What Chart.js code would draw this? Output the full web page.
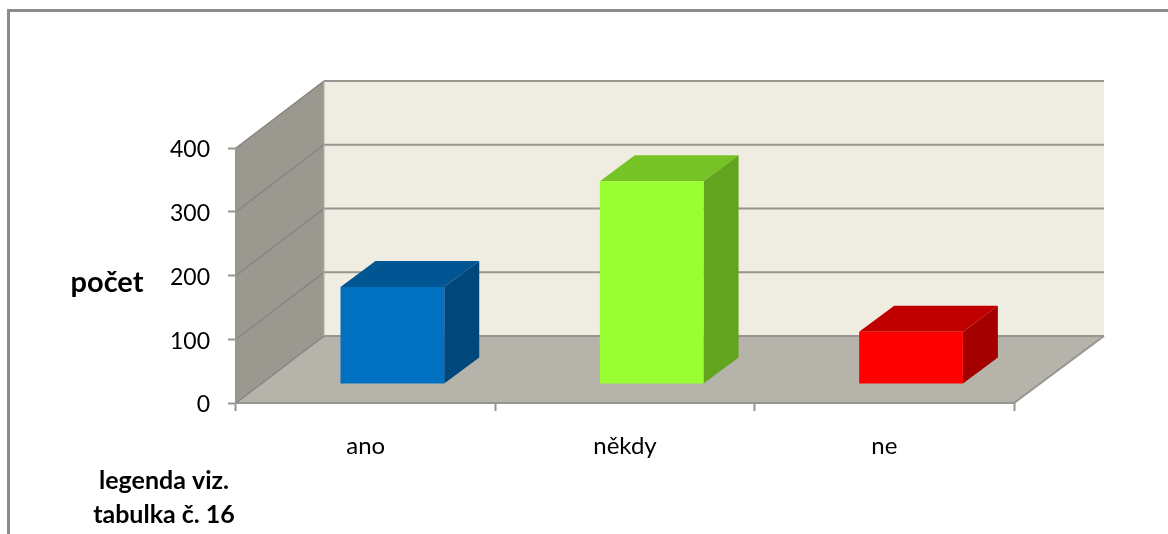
<!DOCTYPE html>
<html>
<head>
<meta charset="utf-8">
<style>html,body{margin:0;padding:0;background:#fff;overflow:hidden}canvas{display:block}</style>
<script src="https://cdn.jsdelivr.net/npm/chart.js@4/dist/chart.umd.min.js"></script>
</head>
<body>
<canvas id="c" width="1168" height="534"></canvas>
<script>
const categories = ["ano", "někdy", "ne"];
const values = [152, 318, 82];
const frontColors = ["#0070c0", "#99ff33", "#ff0000"];
const topColors = ["#005693", "#76c325", "#c00000"];
const sideColors = ["#00477c", "#63a41f", "#a40000"];
const yTicks = [0, 100, 200, 300, 400];
const yAxisTitle = "počet";
const noteLines = ["legenda viz.", "tabulka č. 16"];

const FONT = "Lato, Carlito, Calibri, sans-serif";
const LINE = "#969590";
const WALL = {dx: 88, dy: 67};
const BAR_OFFSET = {dx: 26.7, dy: 19};
const BAR_DEPTH = {dx: 35, dy: 26};

function poly(ctx, pts, fill) {
  ctx.beginPath();
  pts.forEach((p, i) => i ? ctx.lineTo(p[0], p[1]) : ctx.moveTo(p[0], p[1]));
  ctx.closePath();
  ctx.fillStyle = fill;
  ctx.fill();
}
function seg(ctx, x1, y1, x2, y2, color, w) {
  ctx.beginPath();
  ctx.moveTo(x1, y1);
  ctx.lineTo(x2, y2);
  ctx.strokeStyle = color;
  ctx.lineWidth = w;
  ctx.stroke();
}

const scene = {
  id: "scene",
  beforeDraw(chart) {
    const ctx = chart.ctx;
    ctx.save();
    ctx.fillStyle = "#8c8c8c";
    ctx.fillRect(7, 9, 3, 525);
    ctx.fillRect(7, 9, 1161, 3);
    ctx.restore();
  },
  beforeDatasetsDraw(chart) {
    const ctx = chart.ctx;
    const {left: l, right: r, top: t, bottom: b} = chart.chartArea;
    const dx = WALL.dx, dy = WALL.dy;
    const rx = r + dx + 2;
    ctx.save();
    poly(ctx, [[l + dx, t - dy], [rx, t - dy], [rx, b - dy], [l + dx, b - dy]], "#efede2");
    poly(ctx, [[l, t], [l + dx, t - dy], [l + dx, b - dy], [l, b]], "#9b9890");
    poly(ctx, [[l, b], [l + dx, b - dy], [rx, b - dy], [r, b]], "#b6b3ab");
    const ys = chart.scales.y;
    yTicks.forEach(v => {
      const y = ys.getPixelForValue(v);
      seg(ctx, l + dx, y - dy, rx, y - dy, LINE, 2);
      seg(ctx, l, y, l + dx, y - dy, "#85847e", 1.5);
    });
    seg(ctx, l, t, l, b, LINE, 2);
    seg(ctx, l + dx, t - dy, l + dx, b - dy, "#b0aea7", 1);
    seg(ctx, l, b, r, b, LINE, 2);
    seg(ctx, r, b, rx, b - dy, LINE, 2);
    chart.getDatasetMeta(0).data.forEach((el, i) => {
      const x0 = el.x - el.width / 2 + BAR_OFFSET.dx;
      const x1 = el.x + el.width / 2 + BAR_OFFSET.dx;
      const top = el.y - BAR_OFFSET.dy;
      const base = el.base - BAR_OFFSET.dy;
      const d = BAR_DEPTH;
      poly(ctx, [[x0, top], [x0 + d.dx, top - d.dy], [x1 + d.dx, top - d.dy], [x1, top]], topColors[i]);
      poly(ctx, [[x1, top], [x1 + d.dx, top - d.dy], [x1 + d.dx, base - d.dy], [x1, base]], sideColors[i]);
    });
    ctx.restore();
    ctx.save();
    ctx.translate(BAR_OFFSET.dx, -BAR_OFFSET.dy);
  },
  afterDatasetsDraw(chart) {
    chart.ctx.restore();
  },
  afterDraw(chart) {
    const ctx = chart.ctx;
    ctx.save();
    ctx.fillStyle = "#000";
    ctx.textAlign = "center";
    ctx.textBaseline = "middle";
    ctx.font = "bold 29px " + FONT;
    ctx.fillText(yAxisTitle, 107, 283);
    ctx.font = "bold 25px " + FONT;
    ctx.fillText(noteLines[0], 164, 481);
    ctx.fillText(noteLines[1], 164, 515);
    ctx.restore();
  }
};

new Chart(document.getElementById("c"), {
  type: "bar",
  data: {
    labels: categories,
    datasets: [{
      data: values,
      backgroundColor: frontColors,
      borderWidth: 0,
      barPercentage: 0.4,
      categoryPercentage: 1,
      clip: false
    }]
  },
  options: {
    responsive: false,
    animation: false,
    layout: {padding: {top: 148, right: 154, left: 0, bottom: 0}},
    plugins: {legend: {display: false}, tooltip: {enabled: false}, title: {display: false}},
    scales: {
      x: {
        afterFit(s) { s.height = 131; },
        grid: {display: true, drawOnChartArea: false, drawTicks: true, tickLength: 8, tickColor: LINE, tickWidth: 2, offset: true},
        border: {display: false},
        ticks: {color: "#000", font: {family: FONT, size: 24}, padding: 21, maxRotation: 0}
      },
      y: {
        min: 0,
        max: 400,
        afterFit(s) { s.width = 236; },
        afterBuildTicks(s) { s.ticks = yTicks.map(v => ({value: v})); },
        grid: {display: true, drawOnChartArea: false, drawTicks: true, tickLength: 8, tickColor: LINE, tickWidth: 2},
        border: {display: false},
        ticks: {color: "#000", font: {family: FONT, size: 23}, padding: 18, labelOffset: 2}
      }
    }
  },
  plugins: [scene]
});
</script>
</body>
</html>
